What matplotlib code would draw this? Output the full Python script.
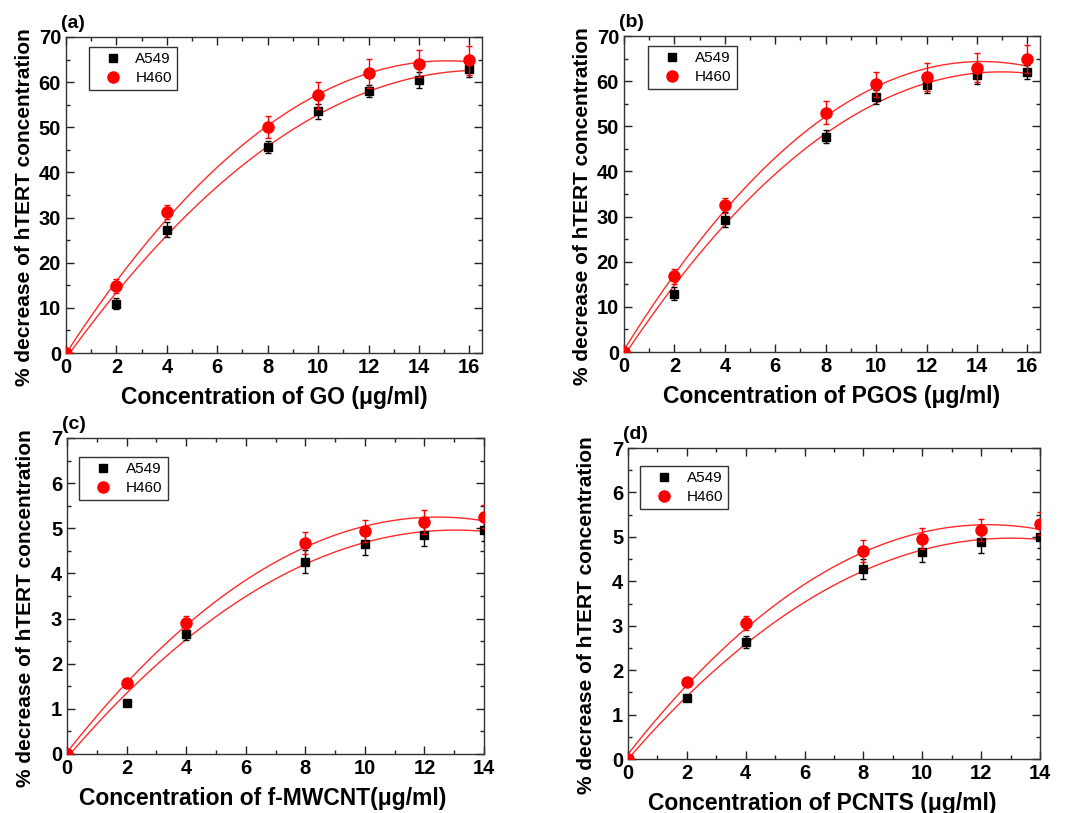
import numpy as np
import matplotlib
matplotlib.use("Agg")
import matplotlib.pyplot as plt
from matplotlib.ticker import MultipleLocator
from matplotlib.lines import Line2D

plt.rcParams['font.family'] = ['Liberation Sans', 'DejaVu Sans']

# ---- data ----
conc_go = [0, 2, 4, 8, 10, 12, 14, 16]
a_a549 = [0, 10.9, 27.3, 45.6, 53.5, 58.0, 60.4, 62.9]
a_a549_err = [0, 1.2, 1.7, 1.4, 1.6, 1.3, 1.8, 1.8]
a_h460 = [0, 14.8, 31.2, 50.0, 57.1, 62.0, 64.1, 64.8]
a_h460_err = [0, 1.6, 1.6, 2.4, 3.0, 3.2, 3.0, 3.2]

conc_pgos = [0, 2, 4, 8, 10, 12, 14, 16]
b_a549 = [0, 12.9, 29.3, 47.7, 56.5, 59.1, 61.3, 62.0]
b_a549_err = [0, 1.4, 1.7, 1.4, 1.6, 1.7, 2.0, 1.6]
b_h460 = [0, 16.8, 32.5, 53.0, 59.3, 61.0, 63.0, 64.9]
b_h460_err = [0, 1.7, 1.6, 2.6, 2.8, 3.1, 3.2, 3.2]

conc_mwcnt = [0, 2, 4, 8, 10, 12, 14]
c_a549 = [0, 1.14, 2.66, 4.26, 4.66, 4.86, 4.97]
c_a549_err = [0, 0.03, 0.14, 0.25, 0.25, 0.26, 0.25]
c_h460 = [0, 1.58, 2.91, 4.67, 4.94, 5.14, 5.26]
c_h460_err = [0, 0.05, 0.15, 0.25, 0.25, 0.26, 0.26]

conc_pcnts = [0, 2, 4, 8, 10, 12, 14]
d_a549 = [0, 1.38, 2.63, 4.28, 4.67, 4.88, 4.99]
d_a549_err = [0, 0.03, 0.13, 0.23, 0.24, 0.24, 0.25]
d_h460 = [0, 1.74, 3.06, 4.69, 4.96, 5.16, 5.30]
d_h460_err = [0, 0.04, 0.16, 0.25, 0.24, 0.25, 0.25]

series_names = ['A549', 'H460']
ylabel_text = '% decrease of hTERT concentration'

panels = [
    dict(tag='(a)', x=conc_go, y1=a_a549, e1=a_a549_err, y2=a_h460, e2=a_h460_err,
         xlabel='Concentration of GO (\u03bcg/ml)', xlim=(0, 16.5), ylim=(0, 70),
         yticks=10, yminor=5, rect=[0.0617, 0.5658, 0.3892, 0.3887],
         leg=(0.055, 0.968), xlx=0.5),
    dict(tag='(b)', x=conc_pgos, y1=b_a549, e1=b_a549_err, y2=b_h460, e2=b_h460_err,
         xlabel='Concentration of PGOS (\u03bcg/ml)', xlim=(0, 16.5), ylim=(0, 70),
         yticks=10, yminor=5, rect=[0.5837, 0.5670, 0.3892, 0.3887],
         leg=(0.058, 0.968), xlx=0.5),
    dict(tag='(c)', x=conc_mwcnt, y1=c_a549, e1=c_a549_err, y2=c_h460, e2=c_h460_err,
         xlabel='Concentration of f-MWCNT(\u03bcg/ml)', xlim=(0, 14), ylim=(0, 7),
         yticks=1, yminor=0.5, rect=[0.0627, 0.0726, 0.3901, 0.3887],
         leg=(0.029, 0.94), xlx=0.469),
    dict(tag='(d)', x=conc_pcnts, y1=d_a549, e1=d_a549_err, y2=d_h460, e2=d_h460_err,
         xlabel='Concentration of PCNTS (\u03bcg/ml)', xlim=(0, 14), ylim=(0, 7),
         yticks=1, yminor=0.5, rect=[0.5875, 0.0664, 0.3854, 0.3825],
         leg=(0.029, 0.942), xlx=0.471),
]

fig = plt.figure(figsize=(10.69, 8.13), dpi=100)

for p in panels:
    ax = fig.add_axes(p['rect'])
    x = np.array(p['x'], dtype=float)
    xs = np.linspace(x[0], x[-1], 200)
    for y in (p['y1'], p['y2']):
        coef = np.polyfit(x, np.array(y, dtype=float), 2)
        ax.plot(xs, np.polyval(coef, xs), color='#ff2a2a', lw=1.0, zorder=2)
    ax.errorbar(x, p['y1'], yerr=p['e1'], fmt='s', color='black', ms=6,
                ecolor='black', elinewidth=1, capsize=2.5, capthick=1,
                zorder=3, clip_on=True)
    ax.errorbar(x, p['y2'], yerr=p['e2'], fmt='o', color='red', ms=8,
                ecolor='red', elinewidth=1, capsize=2.5, capthick=1,
                zorder=4, clip_on=True)
    ax.set_xlim(*p['xlim'])
    ax.set_ylim(*p['ylim'])
    ax.xaxis.set_major_locator(MultipleLocator(2))
    ax.xaxis.set_minor_locator(MultipleLocator(1))
    ax.yaxis.set_major_locator(MultipleLocator(p['yticks']))
    ax.yaxis.set_minor_locator(MultipleLocator(p['yminor']))
    ax.tick_params(which='both', direction='in', top=True, right=True,
                   colors='#222222', labelcolor='black')
    ax.tick_params(which='major', length=6, width=1)
    ax.tick_params(which='minor', length=3, width=1)
    for lab in ax.get_xticklabels() + ax.get_yticklabels():
        lab.set_fontsize(14.5)
        lab.set_fontweight('bold')
    for s in ax.spines.values():
        s.set_color('#333333')
        s.set_linewidth(1.0)
    ax.set_xlabel(p['xlabel'], fontsize=16.5, fontweight='bold')
    ax.xaxis.set_label_coords(p['xlx'], -0.105)
    ax.set_ylabel(ylabel_text, fontsize=15, fontweight='bold')
    ax.yaxis.set_label_coords(-0.077, 0.462)
    ax.text(-0.012, 1.015, p['tag'], transform=ax.transAxes, fontsize=14,
            fontweight='bold', ha='left', va='bottom')
    handles = [
        Line2D([], [], ls='none', marker='s', color='black', ms=6),
        Line2D([], [], ls='none', marker='o', color='red', ms=8),
    ]
    leg = ax.legend(handles, series_names, loc='upper left',
                    bbox_to_anchor=p['leg'], borderaxespad=0, fontsize=11,
                    frameon=True, fancybox=False, edgecolor='#333333',
                    framealpha=1, handletextpad=0.3, borderpad=0.35,
                    labelspacing=0.3, handlelength=2.4)
    leg.get_frame().set_linewidth(1.0)

fig.savefig('out.png', dpi=100)
